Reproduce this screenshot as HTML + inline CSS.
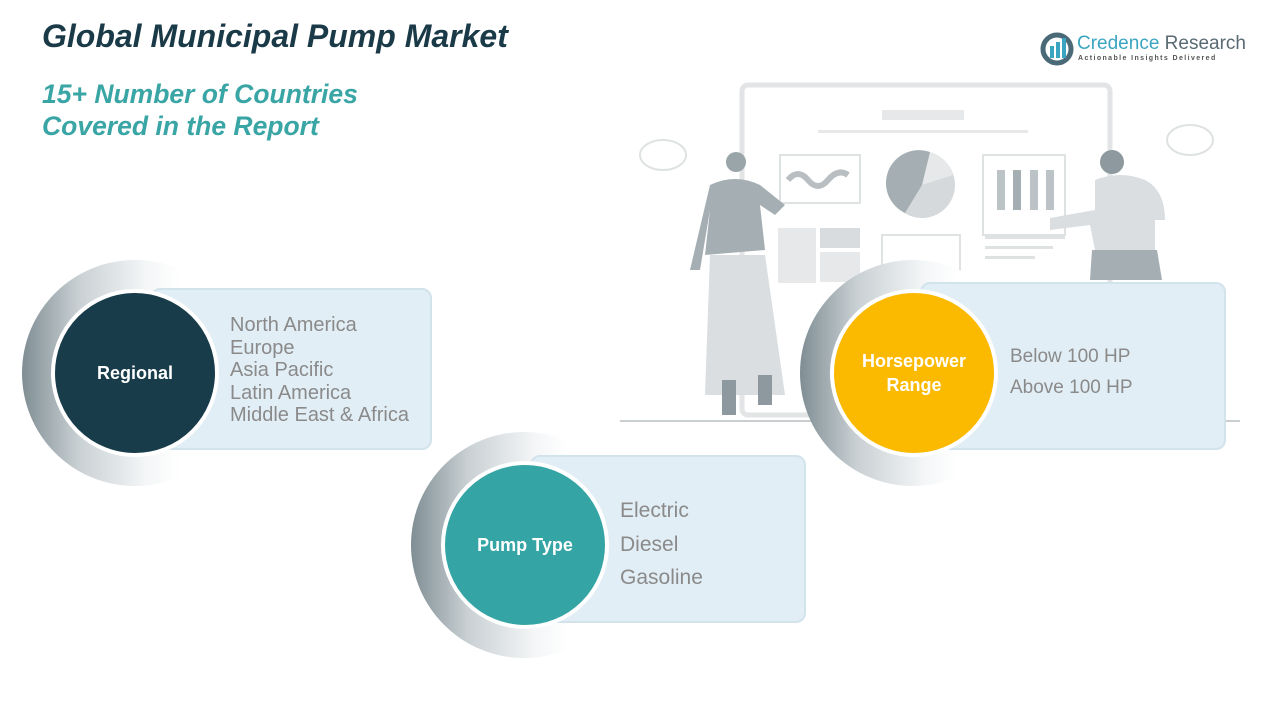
<!DOCTYPE html>
<html><head><meta charset="utf-8"><style>
body{margin:0;width:1280px;height:720px;background:#fff;position:relative;overflow:hidden;font-family:"Liberation Sans",sans-serif}
.t{position:absolute;font-weight:bold;font-style:italic}
.box{position:absolute;background:#e2eef5;border:2px solid #d3e3ec;border-radius:10px;box-sizing:border-box}
.arc{position:absolute;border-radius:50%;background:linear-gradient(90deg,#7f8e94 0%,#c9d0d3 25%,#f4f6f7 55%,#fff 70%)}
.c{position:absolute;border-radius:50%;border:4px solid #fff;box-sizing:border-box;color:#fff;font-weight:bold;display:flex;align-items:center;justify-content:center;text-align:center;font-size:18px;line-height:24px}
.l{position:absolute;color:#8a8a8a;font-size:20px}
</style></head><body>
<div class="t" style="left:42px;top:18px;font-size:32px;color:#1b3a48">Global Municipal Pump Market</div>
<div class="t" style="left:42px;top:78px;font-size:26.5px;color:#3aa5a5;line-height:32px">15+ Number of Countries<br>Covered in the Report</div>
<svg style="position:absolute;left:1040px;top:32px" width="36" height="34"><circle cx="17" cy="17" r="14" fill="none" stroke="#4a6a78" stroke-width="5"/><rect x="10" y="14" width="4" height="12" fill="#3aa5c0"/><rect x="16" y="10" width="4" height="16" fill="#3aa5c0"/><rect x="22" y="6" width="4" height="20" fill="#3aa5c0"/></svg>
<div style="position:absolute;left:1077px;top:33px;font-size:19px;color:#3aa5c0">Credence <span style="color:#5a6a72">Research</span></div>
<div style="position:absolute;left:1078px;top:55px;font-size:7px;letter-spacing:1.4px;color:#555;font-weight:bold">Actionable Insights Delivered</div>
<svg style="position:absolute;left:600px;top:80px" width="660" height="350">
<rect x="142" y="5" width="368" height="330" rx="6" fill="none" stroke="#e2e4e5" stroke-width="5"/>
<rect x="282" y="30" width="82" height="10" fill="#e6e8e9"/><rect x="218" y="50" width="210" height="3" fill="#e6e8e9"/>
<rect x="180" y="75" width="80" height="48" fill="none" stroke="#dfe2e3" stroke-width="2"/>
<path d="M188 100 q10 -12 20 0 t20 0 t20 -5" stroke="#b8bec1" stroke-width="6" fill="none"/>
<circle cx="322" cy="105" r="33" fill="#d5d9db"/><path d="M322 105 L330 72 A33 33 0 0 1 353 95Z" fill="#e6e8e9"/><path d="M322 105 L330 72 A33 33 0 0 0 305 133Z" fill="#a5afb3"/>
<rect x="383" y="75" width="82" height="80" fill="none" stroke="#dfe2e3" stroke-width="2"/>
<rect x="397" y="90" width="8" height="40" fill="#bcc3c6"/><rect x="413" y="90" width="8" height="40" fill="#a5afb3"/><rect x="430" y="90" width="8" height="40" fill="#bcc3c6"/><rect x="446" y="90" width="8" height="40" fill="#bcc3c6"/>
<rect x="178" y="148" width="38" height="55" fill="#e6e8e9"/><rect x="220" y="148" width="40" height="20" fill="#d8dcde"/><rect x="220" y="172" width="40" height="30" fill="#e6e8e9"/>
<rect x="282" y="155" width="78" height="45" fill="none" stroke="#dfe2e3" stroke-width="2"/>
<rect x="385" y="156" width="80" height="3" fill="#dfe2e3"/><rect x="385" y="166" width="68" height="3" fill="#dfe2e3"/><rect x="385" y="176" width="50" height="3" fill="#dfe2e3"/>
<ellipse cx="63" cy="75" rx="23" ry="15" fill="none" stroke="#dfe2e3" stroke-width="2"/><ellipse cx="590" cy="60" rx="23" ry="15" fill="none" stroke="#dfe2e3" stroke-width="2"/>
<circle cx="136" cy="82" r="10" fill="#9aa5a9"/>
<path d="M110 105 q25 -12 50 0 l25 20 l-10 10 l-15 -10 l5 45 l-60 5 l5 -45 l-10 60 l-10 0 Z" fill="#a5afb3"/>
<path d="M110 175 l55 0 l20 140 l-80 0Z" fill="#dadee0"/>
<rect x="122" y="300" width="14" height="35" fill="#8d999e"/><rect x="158" y="295" width="14" height="30" fill="#8d999e"/>
<circle cx="512" cy="82" r="12" fill="#8d999e"/>
<path d="M495 100 q25 -10 50 0 q20 10 20 40 l-10 0 l0 30 l-60 0 l-5 -25 l-40 5 l0 -12 l45 -8Z" fill="#dadee0"/><path d="M492 170 l65 0 l5 30 l-72 0Z" fill="#a5afb3"/>
<rect x="20" y="340" width="620" height="2" fill="#c9cfd1"/>
</svg>
<div class="arc" style="left:22px;top:260px;width:226px;height:226px"></div>
<div class="box" style="left:150px;top:288px;width:282px;height:162px"></div>
<div class="c" style="left:51px;top:289px;width:168px;height:168px;background:#183c4a">Regional</div>
<div class="l" style="left:230px;top:314px;line-height:22.5px">North America<br>Europe<br>Asia Pacific<br>Latin America<br>Middle East &amp; Africa</div>
<div class="arc" style="left:411px;top:432px;width:226px;height:226px"></div>
<div class="box" style="left:530px;top:455px;width:276px;height:168px"></div>
<div class="c" style="left:441px;top:461px;width:168px;height:168px;background:#35a4a4">Pump Type</div>
<div class="l" style="left:620px;top:494px;line-height:33.5px;font-size:21px">Electric<br>Diesel<br>Gasoline</div>
<div class="arc" style="left:800px;top:260px;width:226px;height:226px"></div>
<div class="box" style="left:920px;top:282px;width:306px;height:168px"></div>
<div class="c" style="left:830px;top:289px;width:168px;height:168px;background:#fbb900">Horsepower<br>Range</div>
<div class="l" style="left:1010px;top:341px;line-height:31px;font-size:19px">Below 100 HP<br>Above 100 HP</div>
</body></html>
